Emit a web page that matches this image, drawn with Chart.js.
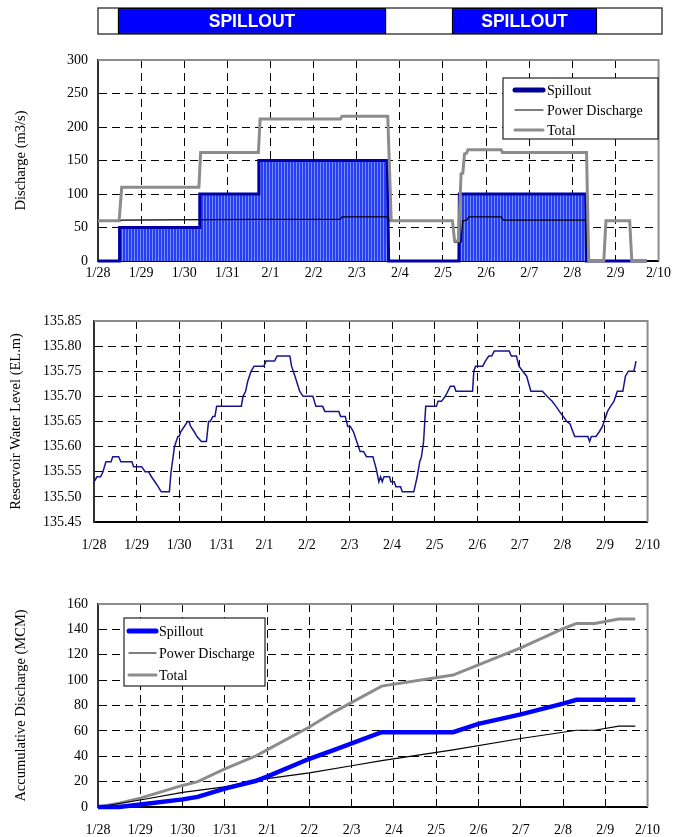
<!DOCTYPE html>
<html><head><meta charset="utf-8"><title>Spillout operation</title>
<script src="https://cdn.jsdelivr.net/npm/chart.js@4.4.1/dist/chart.umd.min.js"></script>
<style>
html,body{margin:0;padding:0;background:#fff}
body{position:relative;width:675px;height:837px;overflow:hidden}
canvas{position:absolute;left:0}
</style></head><body>
<canvas id="cBar" width="675" height="42" style="top:0px"></canvas>
<canvas id="cQ" width="675" height="255" style="top:40px"></canvas>
<canvas id="cL" width="675" height="260" style="top:300px"></canvas>
<canvas id="cA" width="675" height="252" style="top:585px"></canvas>
<script>
// ---------- DATA (x = days since 1/28 00:00) ----------
const dateLabels = ['1/28','1/29','1/30','1/31','2/1','2/2','2/3','2/4','2/5','2/6','2/7','2/8','2/9','2/10'];
const seriesNames = ['Spillout','Power Discharge','Total'];

// spillout periods (top bar)
const spillPeriodStart = [0.46, 8.16];
const spillPeriodEnd   = [6.64, 11.50];
const spillPeriodText  = ['SPILLOUT','SPILLOUT'];

// Discharge (m3/s)
const qSpillDays = [0, 0.49, 0.50, 2.35, 2.36, 3.72, 3.73, 6.71, 6.74, 8.37, 8.38, 11.31, 11.33, 12.73];
const qSpillVals = [0, 0, 50, 50, 100, 100, 150, 150, 0, 0, 100, 100, 0, 0];
const qPowerDays = [0, 0.50, 0.55, 3.72, 5.62, 5.66, 6.71, 6.76, 8.22, 8.27, 8.42, 8.46, 8.55, 8.60, 9.35, 9.40, 11.31, 11.36, 11.73, 11.78, 12.33, 12.38, 12.73];
const qPowerVals = [60, 60, 61, 62, 62, 66, 66, 60, 60, 28, 28, 60, 61, 66, 66, 61, 61, 0, 0, 60, 60, 0, 0];
const qTotalDays = [0, 0.49, 0.55, 2.34, 2.38, 3.72, 3.76, 5.62, 5.66, 6.72, 6.80, 8.22, 8.27, 8.36, 8.42, 8.46, 8.50, 8.55, 8.58, 9.35, 9.38, 11.33, 11.38, 11.73, 11.78, 12.33, 12.38, 12.73];
const qTotalVals = [60, 60, 110, 110, 162, 162, 212, 212, 216, 216, 60, 60, 30, 30, 130, 131, 160, 161, 166, 166, 162, 162, 0, 0, 60, 60, 0, 0];

// Reservoir water level (EL.m)
const levelDays = [0,0.07,0.155,0.21,0.28,0.40,0.44,0.58,0.63,0.89,0.93,1.12,1.20,1.28,1.35,1.43,1.51,1.58,1.77,1.81,1.89,1.97,2.00,2.04,2.12,2.20,2.23,2.27,2.35,2.42,2.52,2.64,2.69,2.73,2.79,2.84,2.88,3.46,3.50,3.56,3.61,3.69,3.76,3.99,4.04,4.24,4.30,4.60,4.64,4.72,4.83,4.91,5.14,5.21,5.37,5.42,5.75,5.79,5.90,5.96,6.02,6.09,6.25,6.33,6.40,6.55,6.63,6.69,6.73,6.77,6.81,6.94,6.97,7.05,7.09,7.20,7.24,7.51,7.59,7.65,7.69,7.74,7.79,8.04,8.08,8.16,8.25,8.31,8.37,8.46,8.50,8.89,8.92,8.96,9.13,9.19,9.27,9.34,9.40,9.75,9.80,9.92,9.98,10.07,10.16,10.26,10.53,10.64,10.76,10.85,10.93,11.02,11.10,11.18,11.29,11.60,11.64,11.68,11.79,11.87,11.94,12.06,12.13,12.21,12.29,12.42,12.48,12.55,12.68,12.73];
const levelVals = [135.53,135.54,135.54,135.55,135.57,135.57,135.58,135.58,135.57,135.57,135.56,135.56,135.55,135.55,135.54,135.53,135.52,135.51,135.51,135.55,135.60,135.62,135.62,135.63,135.64,135.65,135.65,135.64,135.63,135.62,135.61,135.61,135.65,135.65,135.66,135.66,135.68,135.68,135.70,135.71,135.73,135.75,135.76,135.76,135.77,135.77,135.78,135.78,135.76,135.74,135.71,135.70,135.70,135.68,135.68,135.67,135.67,135.66,135.66,135.64,135.64,135.63,135.59,135.59,135.58,135.58,135.555,135.53,135.54,135.53,135.54,135.54,135.53,135.53,135.52,135.52,135.51,135.51,135.54,135.57,135.58,135.61,135.68,135.68,135.69,135.69,135.70,135.71,135.72,135.72,135.71,135.71,135.75,135.76,135.76,135.77,135.78,135.78,135.79,135.79,135.78,135.78,135.76,135.75,135.74,135.71,135.71,135.70,135.69,135.68,135.67,135.66,135.65,135.645,135.62,135.62,135.61,135.62,135.62,135.63,135.64,135.67,135.68,135.69,135.71,135.71,135.74,135.75,135.75,135.77];

// Accumulative discharge (MCM)
const accSpillDays = [0, 0.5, 1, 2, 2.36, 3, 3.72, 4, 5, 5.59, 6.71, 8.40, 9, 10, 11, 11.32, 12.71];
const accSpillVals = [0, 0, 2, 6, 8, 14.5, 20.5, 24, 38, 45, 59, 59, 65.5, 73, 81.5, 84.5, 84.5];
const accPowerDays = [0, 1, 2, 3, 4, 5, 6, 6.71, 8.40, 10, 11.32, 11.75, 12.32, 12.71];
const accPowerVals = [0, 5.5, 11.5, 15.8, 22.4, 26.9, 32.5, 36.5, 45, 54, 60.5, 60.5, 63.7, 63.7];
const accTotalDays = [0, 0.5, 1, 2, 2.36, 3, 3.72, 4, 5, 5.59, 6.71, 8.40, 9, 10, 11, 11.32, 11.75, 12.32, 12.71];
const accTotalVals = [0, 3, 7, 17, 20, 30, 40, 45, 63, 75, 95.3, 104, 112, 125.5, 140.5, 144.7, 144.7, 148.1, 148.1];

// ---------- HELPERS ----------
const pts = (xs, ys) => xs.map((x, i) => ({x: x, y: ys[i]}));
const SERIF = '"Liberation Serif","Times New Roman",serif';
Chart.defaults.font.family = SERIF;
Chart.defaults.font.size = 14;
Chart.defaults.color = '#000';

function xScale(pad, h) {
  return {
    type: 'linear', min: 0, max: 13,
    ticks: {stepSize: 1, autoSkip: false, maxRotation: 0, padding: pad,
            callback: v => (dateLabels[v] !== undefined ? dateLabels[v] : '')},
    grid: {color: '#000', lineWidth: 1, drawTicks: false},
    border: {display: true, color: '#000', width: 2, dash: [8, 5]},
    afterFit: s => { s.height = h; }
  };
}
function yScale(o) {
  return {
    type: 'linear', position: 'left', min: o.min, max: o.max,
    ticks: {stepSize: o.step, padding: o.pad, callback: o.fmt},
    grid: {color: '#000', lineWidth: 1, drawTicks: false},
    border: {display: true, color: '#333', width: 2, dash: [8, 5]},
    title: {display: true, text: o.title, font: {size: 14.5}, padding: {top: o.tpad, bottom: 0}},
    afterFit: s => { s.width = o.w; }
  };
}
const frame = {
  id: 'frame',
  afterDatasetsDraw(chart) {
    const {ctx, chartArea: a} = chart;
    ctx.save();
    ctx.strokeStyle = '#8c8c8c'; ctx.lineWidth = 2; ctx.setLineDash([]);
    ctx.beginPath(); ctx.moveTo(a.left, a.top); ctx.lineTo(a.right, a.top); ctx.lineTo(a.right, a.bottom); ctx.stroke();
    ctx.restore();
  }
};
function makeLegend(cfg) {
  return {
    id: 'boxLegend',
    afterDraw(chart) {
      const ctx = chart.ctx;
      ctx.save();
      ctx.setLineDash([]);
      ctx.fillStyle = '#fff'; ctx.fillRect(cfg.x, cfg.y, cfg.w, cfg.h);
      ctx.strokeStyle = '#222'; ctx.lineWidth = 1.2; ctx.strokeRect(cfg.x, cfg.y, cfg.w, cfg.h);
      ctx.font = '14px ' + SERIF; ctx.textBaseline = 'middle'; ctx.textAlign = 'left';
      chart.data.datasets.forEach((ds, i) => {
        const y = cfg.row0 + i * cfg.rowH;
        ctx.strokeStyle = cfg.styles[i].color; ctx.lineWidth = cfg.styles[i].width; ctx.lineCap = 'round';
        ctx.beginPath(); ctx.moveTo(cfg.sx, y); ctx.lineTo(cfg.sx + cfg.sw, y); ctx.stroke();
        ctx.fillStyle = '#000';
        ctx.fillText(ds.label, cfg.tx, y + 1);
      });
      ctx.restore();
    }
  };
}
const common = {
  responsive: false, animation: false, events: [],
  plugins: {legend: {display: false}, tooltip: {enabled: false}},
  elements: {point: {radius: 0}, line: {tension: 0}}
};

// ---------- TOP BAR ----------
const barDecor = {
  id: 'barDecor',
  beforeDatasetsDraw(chart) {
    const {ctx, chartArea: a} = chart;
    ctx.save(); ctx.strokeStyle = '#444'; ctx.lineWidth = 1.5;
    ctx.strokeRect(a.left, a.top, a.right - a.left, a.bottom - a.top); ctx.restore();
  },
  afterDatasetsDraw(chart) {
    const ctx = chart.ctx;
    ctx.save();
    ctx.fillStyle = '#fff'; ctx.font = 'bold 17.5px "Liberation Sans",Arial,sans-serif';
    ctx.textAlign = 'center'; ctx.textBaseline = 'middle';
    chart.data.datasets.forEach((ds, i) => {
      const el = chart.getDatasetMeta(i).data[0];
      ctx.fillText(ds.label, (el.x + el.base) / 2, el.y + 1);
    });
    ctx.restore();
  }
};
new Chart(document.getElementById('cBar'), {
  type: 'bar',
  data: {
    labels: ['period'],
    datasets: spillPeriodStart.map((s, i) => ({
      label: spillPeriodText[i], data: [[s, spillPeriodEnd[i]]],
      backgroundColor: '#0000ff', borderColor: '#000', borderWidth: 1.5, borderSkipped: false,
      barPercentage: 1, categoryPercentage: 1, grouped: false
    }))
  },
  options: Object.assign({}, common, {
    indexAxis: 'y',
    layout: {padding: {left: 98, right: 13, top: 8, bottom: 8}},
    scales: {x: {type: 'linear', min: 0, max: 13, display: false}, y: {display: false}}
  }),
  plugins: [barDecor]
});

// ---------- DISCHARGE ----------
const cQ = document.getElementById('cQ');
const tile = document.createElement('canvas'); tile.width = 3; tile.height = 6;
const tg = tile.getContext('2d');
tg.fillStyle = '#2b3df2'; tg.fillRect(0, 0, 3, 6);
tg.fillStyle = '#7190ff'; tg.fillRect(2, 0, 1, 6);
const stripes = cQ.getContext('2d').createPattern(tile, 'repeat');

new Chart(cQ, {
  type: 'line',
  data: {datasets: [
    {label: seriesNames[0], data: pts(qSpillDays, qSpillVals), borderColor: '#0000a8', borderWidth: 3,
     backgroundColor: stripes, fill: 'origin', order: 3, clip: 4},
    {label: seriesNames[1], data: pts(qPowerDays, qPowerVals), borderColor: '#000', borderWidth: 1.2, fill: false, order: 2, clip: 4},
    {label: seriesNames[2], data: pts(qTotalDays, qTotalVals), borderColor: '#8c8c8c', borderWidth: 3, fill: false, order: 1, clip: 4}
  ]},
  options: Object.assign({}, common, {
    layout: {padding: {left: 0, right: 13, top: 20, bottom: 0}},
    scales: {
      x: xScale(4, 34),
      y: yScale({min: 0, max: 300, step: 50, pad: 10, fmt: v => v, title: 'Discharge (m3/s)', tpad: 12.6, w: 98})
    }
  }),
  plugins: [frame, makeLegend({x: 503, y: 38, w: 155, h: 61, row0: 50, rowH: 20, sx: 515, sw: 28, tx: 547,
    styles: [{color: '#000099', width: 5}, {color: '#000', width: 1.2}, {color: '#8c8c8c', width: 3}]})]
});

// ---------- WATER LEVEL ----------
new Chart(document.getElementById('cL'), {
  type: 'line',
  data: {datasets: [
    {label: 'Reservoir Water Level', data: pts(levelDays, levelVals), borderColor: '#16168a', borderWidth: 1.5, fill: false}
  ]},
  options: Object.assign({}, common, {
    layout: {padding: {left: 0, right: 13, top: 20, bottom: 0}},
    scales: {
      x: xScale(15, 38),
      y: yScale({min: 135.45, max: 135.85, step: 0.05, pad: 12.5, fmt: v => Number(v).toFixed(2),
                 title: 'Reservoir Water Level (EL.m)', tpad: 7.6, w: 94})
    }
  }),
  plugins: [frame]
});

// ---------- ACCUMULATIVE ----------
new Chart(document.getElementById('cA'), {
  type: 'line',
  data: {datasets: [
    {label: seriesNames[0], data: pts(accSpillDays, accSpillVals), borderColor: '#0000ff', borderWidth: 4.5, fill: false, order: 1, clip: 4},
    {label: seriesNames[1], data: pts(accPowerDays, accPowerVals), borderColor: '#000', borderWidth: 1.2, fill: false, order: 2, clip: 4},
    {label: seriesNames[2], data: pts(accTotalDays, accTotalVals), borderColor: '#8c8c8c', borderWidth: 3, fill: false, order: 3, clip: 4}
  ]},
  options: Object.assign({}, common, {
    layout: {padding: {left: 0, right: 14, top: 19, bottom: 0}},
    scales: {
      x: xScale(15, 30),
      y: yScale({min: 0, max: 160, step: 20, pad: 10, fmt: v => v, title: 'Accumulative Discharge (MCM)', tpad: 12.6, w: 98})
    }
  }),
  plugins: [frame, makeLegend({x: 124, y: 33, w: 141, h: 68, row0: 46, rowH: 22, sx: 129, sw: 27, tx: 159,
    styles: [{color: '#0000ff', width: 5}, {color: '#000', width: 1.2}, {color: '#8c8c8c', width: 3}]})]
});
</script>
</body></html>
